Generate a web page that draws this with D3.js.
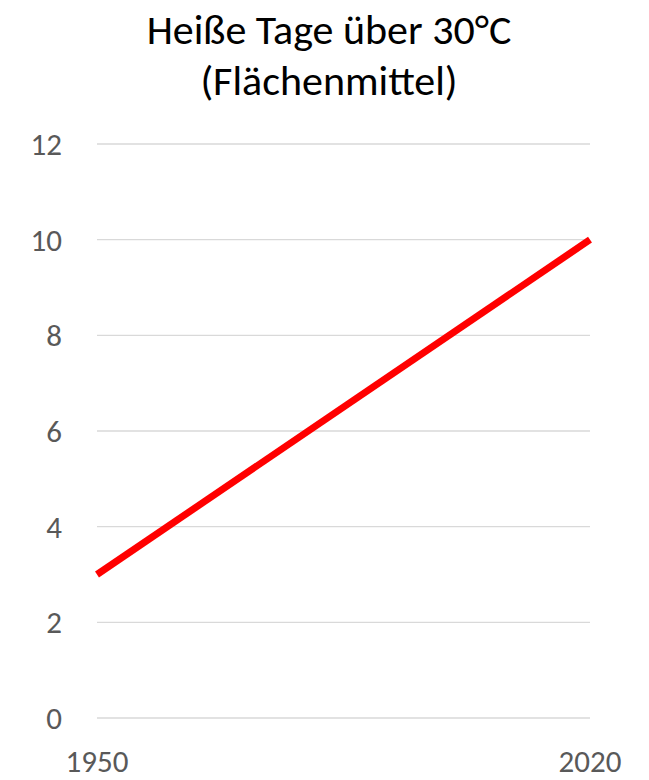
<!DOCTYPE html>
<html>
<head>
<meta charset="utf-8">
<title>Heiße Tage</title>
<style>
  body { margin: 0; background: #fff; }
  text { font-family: Carlito, Lato, "Open Sans", sans-serif; }
</style>
</head>
<body>
<main></main>
<script src="https://cdn.jsdelivr.net/npm/d3@7"></script>
<script>
    var years = [1950, 2020];
    var hotDays = [3, 10];
    var yTicks = [0, 2, 4, 6, 8, 10, 12];
    var titleLines = ["Heiße Tage über 30°C", "(Flächenmittel)"];

    var width = 649, height = 780;
    var margin = {top: 144, right: 59, bottom: 62, left: 97};

    var svg = d3.select("main").append("svg")
        .attr("width", width)
        .attr("height", height);

    var x = d3.scaleLinear().domain([1950, 2020]).range([margin.left, width - margin.right]);
    var y = d3.scaleLinear().domain([0, 12]).range([height - margin.bottom, margin.top]);

    // gridlines
    svg.selectAll("line.grid")
        .data(yTicks)
        .enter().append("line")
        .attr("class", "grid")
        .attr("x1", x(1950)).attr("x2", x(2020))
        .attr("y1", function (d) { return y(d); })
        .attr("y2", function (d) { return y(d); })
        .attr("stroke", "#d9d9d9")
        .attr("stroke-width", 1.3);

    // y labels
    svg.selectAll("text.ylab")
        .data(yTicks)
        .enter().append("text")
        .attr("class", "ylab")
        .attr("x", 62)
        .attr("y", function (d) { return y(d) + 11; })
        .attr("text-anchor", "end")
        .attr("fill", "#595959")
        .attr("font-size", "31px")
        .text(function (d) { return d; });

    // x labels
    svg.selectAll("text.xlab")
        .data(years)
        .enter().append("text")
        .attr("class", "xlab")
        .attr("x", function (d) { return x(d); })
        .attr("y", 772)
        .attr("text-anchor", "middle")
        .attr("fill", "#595959")
        .attr("font-size", "31px")
        .text(function (d) { return d; });

    // line
    var line = d3.line()
        .x(function (d, i) { return x(years[i]); })
        .y(function (d) { return y(d); });

    svg.append("path")
        .datum(hotDays)
        .attr("d", line)
        .attr("fill", "none")
        .attr("stroke", "#ff0000")
        .attr("stroke-width", 7);

    // title
    svg.selectAll("text.title")
        .data(titleLines)
        .enter().append("text")
        .attr("class", "title")
        .attr("x", 329)
        .attr("y", function (d, i) { return 44 + i * 51; })
        .attr("text-anchor", "middle")
        .attr("fill", "#000")
        .attr("font-size", "42px")
        .text(function (d) { return d; });
</script>
</body>
</html>
